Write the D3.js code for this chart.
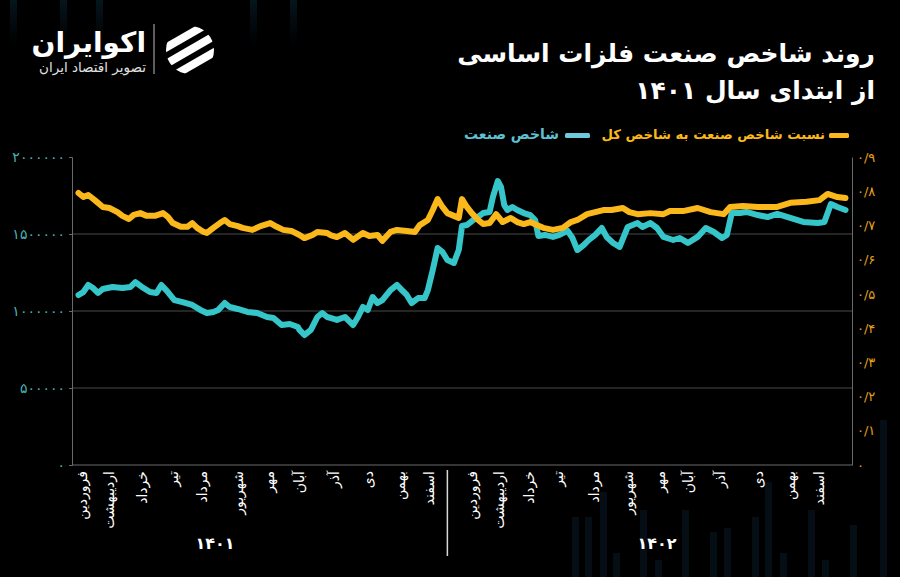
<!DOCTYPE html>
<html><head><meta charset="utf-8">
<script src="https://cdn.jsdelivr.net/npm/d3@7"></script>
<style>
html,body{margin:0;padding:0;background:#000;}
svg{display:block;font-family:"DejaVu Sans",sans-serif;}
</style></head>
<body>
<svg id="chart" width="900" height="577"></svg>
<script>
// ---------- DATA ----------
const months = ['فروردین','اردیبهشت','خرداد','تیر','مرداد','شهریور','مهر','آبان','آذر','دی','بهمن','اسفند'];
const years = ['۱۴۰۱','۱۴۰۲'];
// positions of month labels on the trading-day axis
const monthDays1401 = [6,23,43,62,80,102,121,140,161,182,202,220];
const monthDays1402 = [246,263,281,299,321,342,362,379,399,422,442,460];
const yearDays = [88,360];
const yearSplitDay = 231;
const leftTicks = [0,500000,1000000,1500000,2000000];
const rightTicks = [0,0.1,0.2,0.3,0.4,0.5,0.6,0.7,0.8,0.9];
const legendLabels = ['نسبت شاخص صنعت به شاخص کل','شاخص صنعت'];
const titleLines = ['روند شاخص صنعت فلزات اساسی','از ابتدای سال ۱۴۰۱'];

// ratio of industry index to total index (right axis)
const ratioDays = [4,7,10,14,19,23,28,31,35,38,42,46,51,56,59,62,67,71,74,77,81,83,87,91,94,97,102,105,111,116,122,126,130,135,140,143,148,151,157,159,163,168,173,179,183,188,191,196,200,206,211,214,219,222,225,228,231,235,238,240,243,246,250,253,257,261,265,270,274,278,282,286,290,296,302,307,311,317,322,327,332,339,343,348,356,364,368,376,385,393,401,405,413,422,434,442,452,460,465,471,476];
const ratioValues = [0.795,0.783,0.789,0.774,0.754,0.751,0.739,0.728,0.719,0.731,0.736,0.728,0.728,0.736,0.725,0.707,0.696,0.696,0.707,0.693,0.681,0.678,0.693,0.707,0.716,0.704,0.698,0.693,0.687,0.698,0.707,0.696,0.687,0.684,0.672,0.663,0.672,0.681,0.678,0.672,0.666,0.678,0.658,0.678,0.669,0.672,0.655,0.681,0.687,0.684,0.681,0.701,0.716,0.745,0.777,0.754,0.736,0.728,0.722,0.777,0.754,0.736,0.716,0.704,0.707,0.733,0.710,0.722,0.710,0.704,0.710,0.701,0.693,0.687,0.693,0.710,0.716,0.733,0.739,0.745,0.745,0.751,0.739,0.733,0.736,0.733,0.742,0.742,0.751,0.739,0.733,0.754,0.757,0.754,0.754,0.766,0.769,0.774,0.792,0.783,0.780];

// industry index (left axis)
const indexDays = [4,7,10,13,16,19,25,31,36,39,43,48,52,55,59,63,68,74,79,83,87,90,94,97,102,108,114,120,124,129,134,139,140,143,147,151,154,157,159,163,168,173,176,179,182,185,188,191,196,200,203,206,209,213,217,219,222,225,228,231,235,238,240,243,247,249,253,257,259,262,264,266,268,271,274,278,282,285,287,291,296,300,305,308,311,315,318,322,326,329,333,337,342,348,351,356,360,364,370,374,379,385,390,395,400,403,406,411,415,422,428,434,442,450,459,463,467,471,476];
const indexValues = [1104000,1123000,1169000,1149000,1117000,1143000,1156000,1149000,1156000,1188000,1156000,1123000,1117000,1169000,1123000,1071000,1058000,1039000,1007000,987000,994000,1007000,1052000,1026000,1013000,994000,987000,961000,955000,909000,916000,896000,877000,844000,877000,961000,987000,961000,955000,942000,961000,909000,961000,1026000,1007000,1091000,1052000,1071000,1136000,1169000,1136000,1104000,1052000,1084000,1084000,1136000,1266000,1409000,1383000,1331000,1312000,1396000,1552000,1558000,1591000,1604000,1636000,1643000,1740000,1844000,1805000,1688000,1656000,1675000,1656000,1636000,1623000,1591000,1487000,1494000,1481000,1494000,1520000,1474000,1396000,1429000,1461000,1494000,1539000,1481000,1442000,1416000,1546000,1571000,1546000,1571000,1539000,1481000,1461000,1474000,1442000,1481000,1539000,1513000,1474000,1494000,1636000,1636000,1643000,1623000,1610000,1630000,1604000,1578000,1571000,1578000,1695000,1675000,1656000];

// ---------- HELPERS ----------
const faDigits = '۰۱۲۳۴۵۶۷۸۹';
const toFa = s => String(s).replace(/[0-9]/g, c => faDigits[+c]);

const W = 900, H = 577;
const plot = {left:72, right:852, top:157, bottom:465};
const C = {yellow:'#fbb81a', teal:'#36c6ca', tealLabel:'#4ab3b3', orangeLabel:'#e3a11e', grid:'#4a4a4a', axis:'#6a6a6a', white:'#ffffff'};

const svg = d3.select('#chart');
svg.append('rect').attr('width',W).attr('height',H).attr('fill','#000');

// faint decorative background bars (brand backdrop)
const grad = svg.append('defs').append('linearGradient').attr('id','fadeDown').attr('x1',0).attr('x2',0).attr('y1',0).attr('y2',1);
grad.append('stop').attr('offset','0%').attr('stop-color','#0a2230').attr('stop-opacity',0.6);
grad.append('stop').attr('offset','100%').attr('stop-color','#0a2230').attr('stop-opacity',0);
const deco = svg.append('g');
[[572,517],[585,517],[600,492],[613,553],[640,510],[655,560],[682,510],[710,532],[724,528],[752,517],[765,482],[780,553],[808,510],[822,560],[850,525],[880,420],[10,0],[60,0],[96,0],[250,0],[290,0]]
  .forEach(([bx,by])=>{
    if (by===0) {
      deco.append('rect').attr('x',bx).attr('y',0).attr('width',7).attr('height',45).attr('fill','url(#fadeDown)');
    } else {
      deco.append('rect').attr('x',bx).attr('y',by).attr('width',7).attr('height',H-by)
        .attr('fill','#081a24').attr('opacity',0.55);
    }
  });

const x = d3.scaleLinear().domain([0,480]).range([plot.left, plot.right]);
const yL = d3.scaleLinear().domain([0,2000000]).range([plot.bottom, plot.top]);
const yR = d3.scaleLinear().domain([0,0.9]).range([plot.bottom, plot.top]);

// gridlines
svg.append('g').selectAll('line').data(leftTicks.filter(d=>d>0 && d<2000000)).join('line')
  .attr('x1',plot.left).attr('x2',plot.right)
  .attr('y1',d=>yL(d)).attr('y2',d=>yL(d))
  .attr('stroke',C.grid).attr('stroke-width',1);

// left axis
const gL = svg.append('g').attr('transform',`translate(${plot.left},0)`)
  .call(d3.axisLeft(yL).tickValues(leftTicks).tickFormat(d=>toFa(d)).tickSize(3).tickPadding(4));
gL.select('.domain').attr('stroke',C.axis);
gL.selectAll('.tick line').attr('stroke',C.axis);
gL.selectAll('.tick text').attr('fill',C.tealLabel).attr('font-size',14).attr('font-family','"DejaVu Sans",sans-serif');

// right axis
const gR = svg.append('g').attr('transform',`translate(${plot.right},0)`)
  .call(d3.axisRight(yR).tickValues(rightTicks).tickFormat(d=> d===0 ? toFa(0) : toFa(d3.format('.1f')(d)).replace('.', '/')).tickSize(0).tickPadding(5));
gR.select('.domain').attr('stroke',C.axis);
gR.selectAll('.tick text').attr('fill',C.orangeLabel).attr('font-size',13).attr('font-family','"DejaVu Sans",sans-serif');

// bottom axis line
svg.append('line').attr('x1',plot.left).attr('x2',plot.right).attr('y1',plot.bottom).attr('y2',plot.bottom)
  .attr('stroke',C.axis).attr('stroke-width',1);

// month labels
const monthData = monthDays1401.map((d,i)=>({d,name:months[i]}))
  .concat(monthDays1402.map((d,i)=>({d,name:months[i]})));
svg.append('g').selectAll('text').data(monthData).join('text')
  .attr('transform',d=>`translate(${x(d.d)},${plot.bottom+6}) rotate(-90)`)
  .attr('text-anchor','end').attr('dy','0.35em')
  .attr('fill',C.white).attr('font-size',14)
  .text(d=>d.name);

// year labels
svg.append('g').selectAll('text').data(years).join('text')
  .attr('x',(d,i)=>x(yearDays[i])).attr('y',549)
  .attr('text-anchor','middle').attr('fill',C.white).attr('font-size',16).attr('font-weight','bold')
  .text(d=>d);
svg.append('line').attr('x1',x(yearSplitDay)).attr('x2',x(yearSplitDay)).attr('y1',470).attr('y2',556)
  .attr('stroke','#d8d8d8').attr('stroke-width',1.5);

// lines
const lineIdx = d3.line().x(d=>x(d[0])).y(d=>yL(d[1])).curve(d3.curveLinear);
const lineRat = d3.line().x(d=>x(d[0])).y(d=>yR(d[1])).curve(d3.curveLinear);
svg.append('path').datum(indexDays.map((d,i)=>[d,indexValues[i]]))
  .attr('d',lineIdx).attr('fill','none').attr('stroke',C.teal).attr('stroke-width',6)
  .attr('stroke-linejoin','round').attr('stroke-linecap','round');
svg.append('path').datum(ratioDays.map((d,i)=>[d,ratioValues[i]]))
  .attr('d',lineRat).attr('fill','none').attr('stroke',C.yellow).attr('stroke-width',6)
  .attr('stroke-linejoin','round').attr('stroke-linecap','round');

// title
svg.append('text').attr('x',875).attr('y',62).attr('text-anchor','end')
  .attr('fill',C.white).attr('font-size',25).attr('font-weight','bold').text(titleLines[0]);
svg.append('text').attr('x',875).attr('y',99).attr('text-anchor','end')
  .attr('fill',C.white).attr('font-size',25).attr('font-weight','bold').text(titleLines[1]);

// legend
svg.append('rect').attr('x',829).attr('y',133).attr('width',20).attr('height',5).attr('rx',1.5).attr('fill',C.yellow);
svg.append('text').attr('x',825).attr('y',139).attr('text-anchor','end').attr('fill',C.yellow)
  .attr('font-size',13.2).attr('font-weight','bold').text(legendLabels[0]);
svg.append('rect').attr('x',565).attr('y',133).attr('width',25).attr('height',5).attr('rx',1.5).attr('fill','#6fc9dc');
svg.append('text').attr('x',559).attr('y',139).attr('text-anchor','end').attr('fill','#5fc0d2')
  .attr('font-size',14).attr('font-weight','bold').text(legendLabels[1]);

// logo
const logo = svg.append('g');
logo.append('text').attr('x',146).attr('y',52).attr('text-anchor','end').attr('fill','#fff')
  .attr('font-size',28).attr('font-weight','bold').text('اکوایران');
logo.append('text').attr('x',146).attr('y',72).attr('text-anchor','end').attr('fill','#e0e0e0')
  .attr('font-size',13.5).text('تصویر اقتصاد ایران');
logo.append('line').attr('x1',154).attr('x2',154).attr('y1',24).attr('y2',74).attr('stroke','#bbb').attr('stroke-width',1);
const clip = svg.select('defs').append('clipPath').attr('id','lc');
clip.append('circle').attr('cx',190).attr('cy',50).attr('r',24);
const icon = logo.append('g').attr('clip-path','url(#lc)');
[-14,0,14].forEach(o=>{
  icon.append('rect').attr('x',150).attr('y',50+o-4).attr('width',80).attr('height',8)
    .attr('fill','#fff').attr('transform',`rotate(-30,190,50)`);
});
</script>
</body></html>
